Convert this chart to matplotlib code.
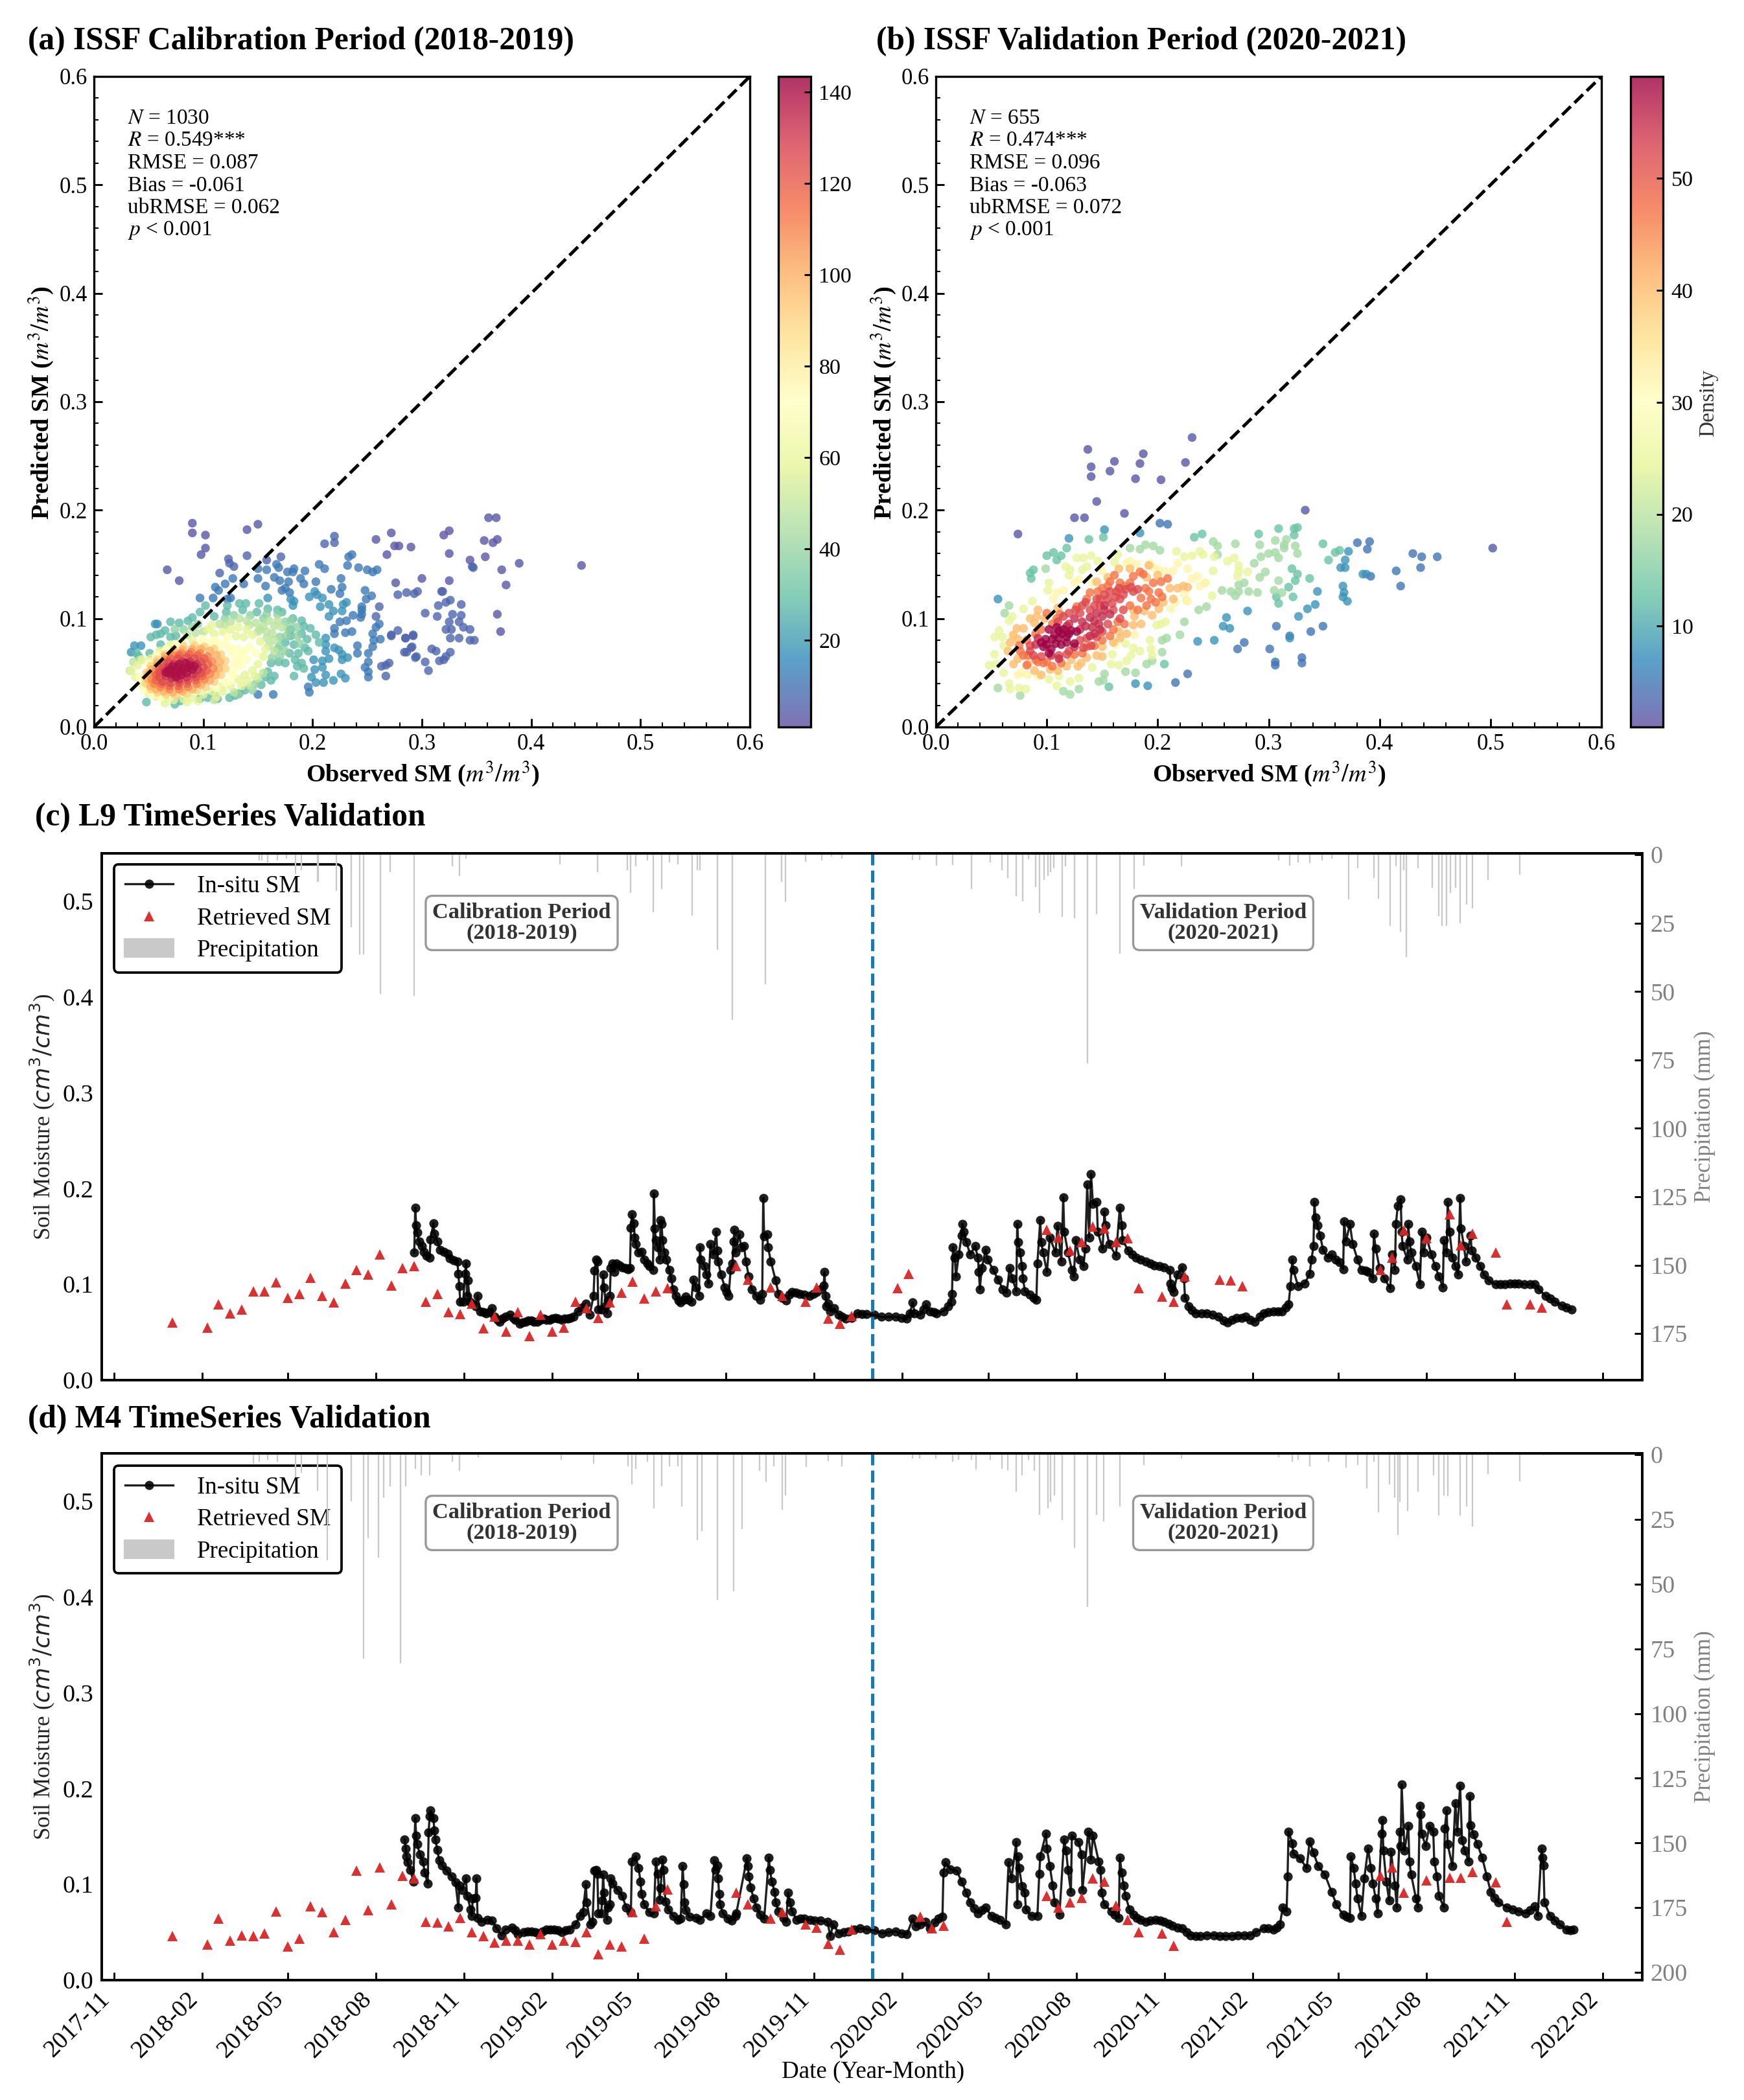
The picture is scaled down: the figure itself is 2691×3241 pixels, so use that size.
import numpy as np
import pandas as pd
import matplotlib
matplotlib.use('Agg')
from matplotlib import pyplot as plt
from matplotlib.dates import MonthLocator, DateFormatter
from matplotlib.patches import Patch
from matplotlib.ticker import AutoMinorLocator

plt.rcParams['font.family'] = ['Liberation Serif', 'DejaVu Serif']
plt.rcParams['mathtext.fontset'] = 'stix'

W, H = 2691, 3241

a_lv3 = [(.090,.188),(.090,.179),(.102,.177),(.102,.165),(.098,.159),(.140,.182),(.150,.187),(.067,.145),(.078,.135),
         (.258,.173),(.272,.179),(.268,.159),(.275,.167),(.279,.167),(.290,.166),(.320,.177),(.325,.181),(.325,.160),
         (.357,.172),(.361,.193),(.368,.193),(.369,.173),(.365,.170),(.358,.157),(.344,.154),(.373,.145),(.389,.151),
         (.446,.149),(.377,.131),(.369,.104),(.372,.088),(.276,.133),(.300,.137),(.325,.135)]
a_lv7 = [(.220,.176),(.220,.170),(.211,.169),(.346,.148),(.347,.147),(.319,.125),(.278,.122),(.286,.124),(.293,.123),
         (.296,.125),(.318,.125),(.326,.117),(.322,.115),(.315,.112),(.336,.113),(.303,.105),(.314,.102),(.328,.104),
         (.336,.103),(.325,.097),(.334,.097),(.338,.092),(.344,.090),(.322,.090),(.327,.090),(.326,.082),(.334,.082),
         (.344,.080),(.348,.080),(.309,.072),(.313,.070),(.326,.069),(.322,.065),(.316,.061),(.320,.062),(.303,.060),
         (.306,.052),(.284,.069),(.294,.064),(.290,.073),(.285,.082),(.292,.084),(.278,.089),(.272,.084),(.286,.069),
         (.295,.065),(.291,.074),(.292,.085),(.272,.085),(.285,.082),(.123,.155),(.124,.151),(.128,.148),(.140,.158),
         (.158,.154),(.171,.157),(.115,.142),(.261,.111),(.258,.102),(.267,.047),(.267,.057),(.270,.059),(.263,.056)]
a_lv12 = [(.167,.150),(.169,.147),(.150,.146),(.158,.145),(.127,.137),(.120,.132),(.137,.132),(.150,.137),(.165,.138),
          (.170,.135),(.178,.134),(.177,.143),(.183,.146),(.182,.143),(.193,.144),(.189,.137),(.192,.132),(.111,.129),
          (.114,.126),(.157,.130),(.175,.128),(.172,.126),(.179,.124),(.206,.150),(.211,.146),(.233,.157),(.236,.159),
          (.232,.149),(.242,.147),(.250,.145),(.255,.143),(.259,.145),(.226,.137),(.203,.134),(.227,.129),(.217,.127),
          (.225,.123),(.248,.126),(.254,.121),(.249,.118),(.097,.119),(.109,.119),(.125,.119),(.122,.118),(.245,.111),
          (.245,.108),(.245,.104),(.244,.101),(.237,.103),(.231,.098),(.225,.097),(.220,.091),(.220,.086),(.230,.087),
          (.236,.088),(.261,.095),(.258,.092),(.255,.086),(.262,.081),(.256,.080),(.255,.074),(.241,.075),(.241,.068),
          (.251,.068),(.251,.060),(.248,.055),(.251,.051),(.251,.046),(.150,.030),(.164,.030),(.196,.037),(.197,.032)]
a_lv18 = [(.202,.125),(.204,.122),(.197,.120),(.209,.119),(.207,.111),(.215,.113),(.231,.115),(.228,.113),(.219,.107),
          (.227,.107),(.215,.102),(.199,.046),(.203,.041),(.210,.041),(.212,.048),(.219,.043),(.226,.049),(.230,.045),
          (.220,.073),(.224,.071),(.227,.067),(.232,.064),(.227,.062),(.212,.082),(.212,.076),(.212,.070),(.215,.063),
          (.209,.061),(.201,.062),(.202,.053),(.209,.055),(.159,.119),(.180,.118),(.183,.116),(.182,.112),(.056,.095),
          (.058,.095),(.037,.075),(.043,.075),(.034,.069)]
a_lv28 = [(.070,.097),(.078,.096),(.086,.098),(.090,.101),(.097,.106),(.102,.112),(.110,.102),(.052,.083),(.057,.085),
          (.061,.086),(.065,.089),(.070,.083),(.075,.084),(.039,.068),(.041,.065),(.051,.068),(.061,.076),(.048,.023),
          (.074,.021),(.079,.024),(.097,.026),(.104,.027),(.110,.030),(.113,.026),(.124,.027),(.129,.029),(.133,.031),
          (.138,.034),(.122,.112),(.121,.106),(.133,.114),(.139,.114),(.151,.114),(.159,.109),(.168,.108),(.172,.106),
          (.136,.108),(.149,.106),(.182,.100),(.190,.098),(.192,.093),(.198,.091),(.203,.085),(.180,.090),(.180,.084),
          (.195,.081),(.206,.078),(.183,.076),(.193,.073),(.196,.070),(.184,.062),(.190,.059),(.186,.056),(.192,.054),
          (.183,.047),(.169,.060),(.175,.059),(.162,.059),(.159,.051),(.165,.047),(.162,.043),(.153,.039),(.157,.046),
          (.179,.068),(.175,.078),(.187,.068),(.190,.086)]
a_lv38 = [(.120,.100),(.128,.103),(.143,.103),(.155,.100),(.175,.097),(.178,.090),(.170,.083),(.170,.075),(.175,.070),
          (.170,.065),(.148,.040),(.145,.034),(.132,.030),(.082,.090),(.074,.090),(.090,.092),(.095,.095),(.185,.092),
          (.186,.084),(.188,.077),(.180,.098),(.168,.104),(.158,.104),(.176,.084),(.168,.072),(.163,.064)]
a_lv48 = [(.125,.097),(.133,.100),(.140,.098),(.148,.096),(.155,.093),(.150,.088),(.158,.088),(.163,.086),(.165,.093),
          (.160,.098),(.168,.098),(.172,.092),(.165,.080),(.160,.075),(.165,.070),(.155,.050),(.150,.045),(.143,.038),
          (.128,.032),(.110,.025),(.115,.095),(.100,.088),(.093,.087),(.085,.085),(.033,.052),(.036,.060),(.042,.062),
          (.158,.082),(.152,.090),(.142,.094),(.120,.094)]
a_lv58 = [(.118,.088),(.125,.090),(.132,.092),(.140,.090),(.130,.084),(.137,.083),(.145,.085),(.110,.086),(.104,.090),
          (.108,.094),(.152,.079),(.157,.072),(.155,.065),(.150,.058),(.145,.052),(.138,.048),(.132,.044),(.140,.043),
          (.147,.047),(.125,.038),(.118,.033),(.135,.038),(.112,.028),(.095,.024),(.085,.023),(.065,.022),(.034,.052),
          (.038,.046),(.040,.057),(.044,.062),(.045,.038),(.050,.031),(.057,.028),(.065,.026),(.073,.025),(.082,.026),
          (.090,.027),(.100,.030),(.108,.033),(.116,.037),(.052,.063),(.060,.070),(.070,.076),(.080,.079),(.090,.080)]
a_lv72 = [(.124,.042),(.128,.048),(.130,.055),(.132,.062),(.135,.068),(.125,.073),(.120,.078),(.110,.080),(.100,.081),
          (.125,.050),(.128,.058),(.133,.064),(.138,.070),(.143,.074),(.148,.068),(.140,.062),(.132,.072),(.125,.070),
          (.118,.075),(.122,.083),(.112,.078),(.105,.077),(.097,.078),(.135,.057),(.128,.066),(.042,.046),(.046,.034),
          (.053,.030),(.062,.028),(.112,.036),(.120,.041),(.050,.058),(.057,.066),(.066,.072),(.075,.076)]
a_lv90 = [(.047,.045),(.048,.040),(.052,.035),(.058,.032),(.066,.030),(.075,.029),(.085,.031),(.094,.034),(.102,.037),
          (.110,.042),(.116,.048),(.120,.054),(.120,.061),(.116,.067),(.110,.072),(.101,.074),(.092,.075),(.082,.074),
          (.073,.071),(.065,.067),(.058,.062),(.052,.056),(.048,.050)]
a_lv100 = [(.050,.044),(.052,.038),(.057,.035),(.064,.033),(.072,.032),(.081,.033),(.090,.035),(.098,.039),(.106,.043),
           (.111,.048),(.114,.054),(.115,.060),(.112,.066),(.106,.070),(.098,.072),(.090,.072),(.081,.071),(.073,.069),
           (.065,.065),(.058,.059),(.053,.053),(.050,.049)]
a_lv110 = [(.053,.044),(.055,.040),(.061,.037),(.069,.035),(.078,.035),(.086,.037),(.094,.040),(.101,.044),(.106,.049),
           (.109,.054),(.108,.060),(.104,.065),(.097,.068),(.089,.069),(.080,.068),(.072,.066),(.065,.062),(.058,.056),
           (.055,.050)]
a_lv118 = [(.057,.043),(.062,.040),(.069,.038),(.077,.038),(.085,.040),(.093,.043),(.099,.047),(.103,.052),(.104,.058),
           (.101,.063),(.095,.066),(.087,.067),(.078,.066),(.070,.063),(.064,.058),(.060,.053),(.057,.048)]
a_lv125 = [(.060,.046),(.063,.042),(.070,.041),(.078,.041),(.086,.043),(.093,.046),(.098,.050),(.100,.055),(.098,.060),
           (.092,.063),(.085,.064),(.077,.063),(.068,.060),(.063,.055),(.060,.050)]
a_lv132 = [(.066,.047),(.071,.045),(.078,.044),(.085,.046),(.091,.049),(.095,.053),(.094,.058),(.088,.060),(.081,.060),
           (.073,.058),(.068,.055),(.065,.051)]
a_lv140 = [(.070,.049),(.075,.046),(.080,.048),(.085,.050),(.090,.053),(.086,.055),(.080,.053),(.075,.052),(.070,.053),
           (.066,.050),(.072,.056),(.078,.058),(.084,.059),(.092,.056),(.074,.049),(.079,.051),(.083,.053),(.077,.055),
           (.088,.057),(.068,.052)]

b_lv2 = [(.137,.256),(.231,.267),(.140,.240),(.140,.231),(.161,.245),(.157,.236),(.187,.252),(.184,.243),(.225,.244),
         (.180,.229),(.203,.228),(.145,.208),(.125,.193),(.134,.193),(.170,.197),(.074,.178),(.333,.200),(.502,.165)]
b_lv5 = [(.202,.188),(.209,.187),(.216,.041),(.227,.049),(.272,.072),(.278,.078),(.301,.072),(.306,.060),(.306,.057),
         (.330,.064),(.330,.059),(.319,.084),(.338,.088),(.349,.093),(.307,.093),(.430,.160),(.438,.157),(.437,.147),
         (.452,.157),(.415,.144),(.419,.130),(.392,.139),(.389,.164),(.391,.171),(.380,.170)]
b_lv8 = [(.056,.118),(.184,.179),(.152,.182),(.120,.174),(.259,.093),(.265,.091),(.262,.101),(.281,.107),(.251,.080),
         (.236,.079),(.180,.040),(.191,.038),(.327,.102),(.335,.109),(.342,.113),(.385,.141),(.388,.141),(.372,.162),
         (.369,.154),(.365,.147),(.369,.147),(.367,.130),(.368,.124),(.367,.120),(.371,.116),(.319,.082),(.344,.125)]
b_lv13 = [(.138,.173),(.151,.175),(.118,.165),(.100,.158),(.106,.161),(.109,.154),(.113,.158),(.088,.145),(.085,.142),
          (.086,.137),(.233,.175),(.240,.178),(.291,.178),(.309,.183),(.326,.184),(.323,.183),(.323,.177),(.349,.169),
          (.360,.161),(.354,.154),(.364,.163),(.337,.137),(.322,.120),(.309,.114),(.307,.120),(.206,.058),(.156,.037),
          (.324,.135),(.321,.146),(.326,.141),(.318,.129)]
b_lv18 = [(.324,.167),(.326,.160),(.316,.173),(.314,.168),(.314,.165),(.306,.172),(.306,.161),(.300,.160),(.309,.156),
          (.292,.168),(.293,.157),(.270,.169),(.287,.151),(.297,.143),(.292,.138),(.309,.135),(.305,.126),(.312,.124),
          (.290,.124),(.282,.125),(.270,.121),(.266,.125),(.273,.125),(.278,.133),(.273,.131),(.258,.126),(.250,.171),
          (.254,.167),(.237,.108),(.244,.111),(.224,.097),(.220,.085),(.189,.168),(.196,.167),(.175,.165),(.184,.164),
          (.202,.163),(.066,.112),(.062,.105),(.254,.159),(.099,.146),(.076,.029),(.056,.036),(.115,.033),(.121,.030),
          (.129,.035),(.180,.050),(.171,.051),(.190,.058),(.195,.061),(.204,.069),(.208,.082),(.204,.080),(.147,.042),
          (.151,.043),(.152,.049)]
b_lv25 = [(.127,.156),(.133,.156),(.140,.158),(.117,.148),(.121,.145),(.120,.140),(.136,.148),(.132,.145),(.146,.153),
          (.161,.152),(.164,.159),(.217,.162),(.224,.157),(.231,.158),(.238,.162),(.241,.159),(.251,.157),(.263,.153),
          (.269,.156),(.273,.149),(.273,.144),(.281,.143),(.272,.139),(.250,.144),(.249,.121),(.243,.133),(.102,.133),
          (.101,.126),(.087,.116),(.079,.109),(.069,.102),(.066,.098),(.057,.089),(.053,.083),(.060,.083),(.061,.075),
          (.053,.067),(.048,.057),(.054,.058),(.061,.050),(.066,.040),(.067,.035),(.075,.036),(.081,.035),(.109,.038),
          (.102,.044),(.111,.047),(.121,.042),(.129,.045),(.141,.055),(.158,.058),(.165,.057),(.172,.061),(.176,.066),
          (.184,.070),(.178,.073),(.194,.072),(.193,.080),(.195,.066),(.159,.067),(.171,.077),(.199,.094),(.203,.095),
          (.207,.097),(.226,.117)]
b_lv32 = [(.175,.153),(.172,.151),(.181,.150),(.193,.151),(.196,.147),(.200,.146),(.206,.144),(.214,.144),(.218,.151),
          (.227,.146),(.236,.139),(.231,.137),(.238,.130),(.243,.133),(.224,.123),(.227,.116),(.212,.109),(.216,.115),
          (.150,.144),(.141,.133),(.125,.133),(.129,.136),(.115,.126),(.109,.124),(.106,.118),(.179,.085),(.162,.076),
          (.092,.047),(.083,.048),(.077,.050),(.074,.048),(.069,.084)]
b_lv40 = [(.192,.149),(.223,.130),(.227,.129),(.218,.128),(.211,.128),(.214,.118),(.201,.109),(.188,.107),(.178,.108),
          (.179,.102),(.178,.094),(.172,.086),(.150,.074),(.092,.108),(.091,.102),(.089,.096),(.079,.091),(.073,.091),
          (.074,.081),(.067,.078),(.074,.063),(.083,.058),(.089,.052),(.103,.053),(.122,.062),(.136,.064),(.145,.066),
          (.166,.082),(.160,.078),(.118,.056),(.131,.059),(.200,.140),(.190,.138),(.175,.146),(.165,.146),(.155,.138),
          (.145,.134),(.205,.115),(.195,.103),(.185,.095),(.165,.088),(.110,.110),(.098,.100),(.085,.100),(.070,.085),
          (.065,.070),(.070,.058),(.095,.048),(.110,.052),(.128,.056),(.150,.065)]
b_lv47 = [(.161,.140),(.157,.134),(.166,.133),(.178,.139),(.187,.141),(.184,.143),(.209,.137),(.203,.134),(.196,.133),
          (.201,.124),(.204,.120),(.194,.118),(.185,.119),(.189,.128),(.150,.128),(.136,.118),(.139,.124),(.112,.104),
          (.109,.100),(.127,.111),(.079,.066),(.083,.066),(.076,.070),(.082,.057),(.097,.059),(.113,.059),(.132,.068),
          (.136,.074),(.143,.075),(.157,.084),(.164,.097),(.092,.060),(.105,.056),(.146,.125),(.155,.130),(.170,.130),
          (.175,.133),(.192,.125),(.198,.115),(.190,.112),(.182,.108),(.175,.112),(.100,.105),(.105,.095),(.095,.090),
          (.090,.086),(.082,.080),(.075,.075),(.090,.062),(.100,.060),(.125,.067),(.150,.080),(.160,.090),(.170,.095)]
b_lv52 = [(.178,.125),(.171,.127),(.182,.127),(.176,.129),(.157,.125),(.152,.122),(.148,.118),(.132,.112),(.126,.108),
          (.139,.108),(.143,.112),(.115,.102),(.166,.118),(.162,.120),(.159,.114),(.169,.108),(.166,.100),(.145,.083),
          (.136,.082),(.150,.088),(.118,.067),(.111,.066),(.133,.073),(.165,.128),(.169,.122),(.088,.066),(.085,.075),
          (.135,.115),(.145,.118),(.155,.118),(.163,.125),(.148,.112),(.130,.105),(.120,.105),(.110,.097),(.160,.108),
          (.155,.095),(.130,.080),(.120,.070),(.095,.065),(.085,.070),(.140,.075)]
b_lv55 = [(.152,.108),(.157,.104),(.150,.102),(.143,.098),(.139,.101),(.132,.097),(.125,.100),(.141,.092),(.152,.112),
          (.143,.086),(.139,.084),(.125,.074),(.092,.082),(.090,.076),(.111,.063),(.104,.066),(.118,.093),(.147,.095),
          (.135,.093),(.130,.090),(.145,.105),(.148,.090),(.120,.095)]
b_lv59 = [(.111,.089),(.114,.086),(.122,.089),(.127,.088),(.099,.081),(.111,.082),(.118,.083),(.102,.090),(.109,.092),
          (.097,.074),(.104,.072),(.113,.076),(.102,.068),(.125,.077),(.105,.081),(.108,.077),(.118,.078),(.107,.085),
          (.115,.090),(.100,.076),(.120,.086),(.095,.078)]

# retrieved SM, step = number of 12-day revisits after 2018-01-01
c_ret_step = [0,3,4,5,6,7,8,9,10,11,12,13,14,15,16,17,18,19,20,21,22,23,24,25,26,27,28,29,30,31,32,33,34,35,36,37,38,39,40,
              41,42,43,49,50,52,53,55,56,57,58,59,63,64,76,77,78,79,80,81,82,83,84,86,87,88,91,92,93,105,106,107,109,111,
              112,113,115,116,118,119]
c_ret_sm = [.060,.055,.079,.070,.074,.093,.093,.102,.086,.090,.107,.088,.081,.101,.115,.110,.131,.099,.117,.119,.082,.090,
            .071,.069,.080,.054,.066,.051,.071,.046,.068,.051,.055,.082,.075,.065,.081,.091,.103,.085,.093,.096,.119,.105,
            .097,.088,.082,.097,.064,.059,.067,.096,.111,.157,.149,.135,.144,.160,.158,.144,.148,.096,.087,.082,.108,.105,
            .104,.098,.115,.128,.156,.148,.173,.141,.153,.133,.079,.079,.076]
d_ret_step = [0,3,4,5,6,7,8,9,10,11,12,13,14,15,16,17,18,19,20,21,22,23,24,25,26,27,28,29,30,31,32,33,34,35,36,37,38,39,40,
              41,42,43,49,50,52,53,55,56,57,58,59,65,66,67,76,77,78,79,80,81,82,83,84,86,87,105,106,107,109,111,112,113,115,116]
d_ret_sm = [.046,.037,.064,.041,.047,.046,.049,.072,.035,.043,.077,.071,.050,.063,.114,.073,.118,.079,.109,.106,.061,.060,
            .056,.065,.050,.046,.039,.041,.041,.037,.048,.037,.041,.040,.050,.027,.037,.035,.071,.043,.077,.095,.091,.079,
            .064,.071,.058,.055,.038,.032,.053,.066,.054,.057,.088,.076,.081,.086,.106,.103,.078,.063,.050,.049,.036,.109,
            .118,.091,.104,.107,.107,.113,.102,.061]

# in-situ SM as (days after 2018-01-01, value)
c_insitu = [(252,.133),(253,.180),(254,.162),(255,.154),(257,.145),(260,.140),(262,.134),(265,.130),(268,.128),(269,.147),
            (272,.164),(273,.153),(276,.145),(279,.136),(283,.134),(287,.132),(289,.127),(293,.125),(297,.124),(298,.111),
            (299,.098),(300,.082),(303,.082),(305,.111),(306,.122),(307,.088),(308,.104),(310,.082),(313,.080),(316,.077),
            (318,.088),(321,.072),(324,.071),(327,.070),(330,.071),(333,.075),(336,.066),(339,.063),(341,.061),(344,.064),
            (347,.066),(352,.068),(355,.065),(357,.063),(362,.059),(365,.060),(368,.061),(371,.062),(374,.062),(377,.061),
            (380,.061),(384,.063),(387,.064),(390,.063),(393,.063),(396,.064),(399,.065),(402,.064),(406,.063),(409,.064),
            (412,.064),(415,.065),(418,.066),(423,.072),(427,.076),(431,.080),(435,.068),(439,.088),(440,.114),(442,.126),
            (443,.124),(444,.074),(447,.074),(449,.110),(450,.097),(452,.078),(453,.070),(454,.083),(456,.088),(457,.117),
            (459,.122),(461,.113),(463,.122),(466,.120),(469,.118),(472,.117),(475,.116),(477,.117),(478,.159),(479,.173),
            (481,.164),(482,.149),(483,.142),(486,.133),(489,.134),(492,.126),(495,.122),(497,.119),(501,.115),(502,.195),
            (503,.158),(504,.146),(506,.139),(508,.126),(509,.167),(510,.163),(511,.146),(513,.133),(515,.126),(518,.115),
            (520,.106),(522,.095),(525,.088),(528,.083),(530,.081),(533,.084),(535,.087),(538,.084),(541,.082),(543,.105),
            (546,.097),(549,.088),(550,.139),(551,.126),(555,.119),(557,.110),(559,.101),(561,.142),(564,.131),(567,.155),
            (568,.135),(569,.124),(572,.110),(576,.097),(578,.092),(580,.088),(582,.115),(584,.122),(585,.145),(586,.157),
            (587,.133),(591,.152),(593,.139),(596,.140),(598,.124),(601,.108),(604,.095),(609,.088),(613,.084),(615,.090),
            (616,.190),(617,.150),(620,.152),(621,.139),(624,.124),(629,.104),(632,.090),(636,.086),(640,.083),(643,.089),
            (646,.092),(650,.091),(654,.090),(659,.089),(664,.088),(668,.090),(672,.092),(676,.095),(679,.099),(680,.113),
            (681,.088),(682,.077),(684,.080),(686,.072),(690,.075),(695,.068),(698,.066),(702,.064),(708,.065),(714,.070),
            (719,.069),(724,.069),(732,.068),(739,.066),(747,.066),(754,.066),(760,.065),(766,.064),(769,.070),(772,.081),
            (774,.070),(780,.068),(783,.074),(786,.079),(790,.072),(794,.071),(797,.070),(804,.072),(809,.077),(812,.082),
            (813,.090),(814,.139),(816,.128),(817,.108),(820,.131),(823,.151),(824,.163),(825,.155),(828,.144),(832,.131),
            (837,.140),(840,.128),(841,.113),(842,.095),(844,.117),(848,.136),(850,.126),(856,.115),(861,.105),(866,.095),
            (870,.091),(873,.117),(876,.106),(880,.093),(881,.163),(882,.144),(884,.133),(886,.119),(887,.106),(889,.093),
            (894,.089),(898,.086),(901,.084),(902,.122),(905,.167),(906,.144),(908,.133),(912,.113),(915,.149),(921,.133),
            (923,.161),(927,.124),(929,.191),(930,.155),(934,.133),(938,.115),(940,.108),(942,.146),(946,.126),(950,.119),
            (952,.137),(954,.204),(956,.149),(958,.215),(960,.184),(964,.186),(965,.155),(970,.137),(972,.176),(973,.162),
            (977,.142),(984,.130),(988,.180),(990,.162),(991,.146),(997,.135),(1001,.131),(1005,.128),(1010,.126),(1015,.124),
            (1020,.122),(1024,.120),(1029,.119),(1034,.118),(1040,.115),(1041,.101),(1042,.096),(1044,.092),(1048,.110),
            (1053,.118),(1055,.106),(1056,.086),(1060,.077),(1063,.073),(1067,.070),(1073,.070),(1079,.070),(1085,.068),
            (1091,.066),(1096,.062),(1100,.060),(1105,.063),(1110,.065),(1115,.065),(1119,.066),(1124,.063),(1129,.061),
            (1134,.066),(1138,.070),(1143,.071),(1148,.072),(1153,.072),(1157,.072),(1161,.076),(1164,.079),(1166,.098),
            (1168,.126),(1169,.115),(1174,.098),(1181,.101),(1186,.111),(1188,.126),(1190,.140),(1191,.186),(1192,.170),
            (1194,.162),(1197,.151),(1200,.136),(1205,.128),(1209,.131),(1213,.126),(1217,.123),(1221,.116),(1222,.166),
            (1224,.145),(1228,.163),(1231,.142),(1236,.126),(1240,.115),(1244,.114),(1247,.113),(1252,.106),(1253,.153),
            (1255,.137),(1259,.117),(1264,.106),(1270,.096),(1272,.131),(1275,.115),(1276,.163),(1278,.182),(1281,.189),
            (1282,.155),(1283,.140),(1288,.126),(1289,.163),(1290,.145),(1292,.133),(1297,.119),(1301,.100),(1303,.155),
            (1305,.133),(1308,.149),(1313,.131),(1317,.119),(1321,.108),(1325,.097),(1326,.146),(1329,.133),(1330,.186),
            (1332,.155),(1335,.128),(1338,.119),(1341,.110),(1343,.190),(1344,.158),(1347,.140),(1349,.124),(1354,.151),
            (1355,.135),(1359,.128),(1364,.119),(1368,.110),(1373,.104),(1380,.100),(1385,.100),(1390,.100),(1395,.101),
            (1400,.101),(1404,.101),(1410,.100),(1416,.100),(1421,.100),(1425,.095),(1432,.088),(1437,.085),(1442,.082),
            (1449,.078),(1454,.076),(1459,.074)]

d_insitu = [(242,.147),(243,.137),(244,.129),(245,.123),(248,.115),(251,.103),(253,.169),(254,.151),(255,.142),(258,.131),
            (261,.124),(263,.112),(266,.101),(267,.154),(268,.171),(269,.177),(272,.169),(273,.156),(274,.147),(276,.136),
            (278,.125),(281,.120),(286,.114),(291,.108),(295,.102),(298,.076),(299,.099),(302,.094),(306,.106),(307,.088),
            (311,.074),(312,.067),(313,.085),(316,.086),(317,.106),(318,.065),(322,.061),(328,.063),(333,.062),(338,.054),
            (343,.047),(347,.053),(354,.055),(357,.052),(360,.048),(366,.050),(370,.051),(374,.051),(378,.050),(382,.049),
            (386,.051),(390,.053),(394,.053),(398,.053),(402,.052),(406,.050),(410,.052),(414,.053),(420,.058),(425,.067),
            (428,.071),(431,.100),(432,.081),(436,.058),(438,.061),(440,.114),(442,.115),(443,.111),(444,.070),(447,.070),
            (448,.083),(449,.110),(450,.091),(453,.063),(454,.076),(456,.079),(457,.106),(459,.101),(464,.094),(469,.088),
            (473,.076),(478,.071),(479,.124),(483,.129),(486,.117),(488,.103),(489,.090),(492,.079),(497,.071),(502,.070),
            (504,.124),(506,.111),(508,.084),(509,.096),(511,.126),(512,.115),(514,.082),(517,.074),(522,.067),(527,.063),
            (530,.064),(532,.119),(533,.100),(534,.081),(535,.073),(539,.066),(546,.065),(550,.063),(557,.070),(561,.067),
            (565,.125),(566,.115),(568,.120),(569,.106),(570,.090),(571,.079),(574,.070),(579,.064),(583,.062),(587,.067),
            (588,.070),(599,.127),(600,.119),(601,.108),(603,.097),(606,.085),(609,.076),(613,.068),(617,.064),(622,.128),
            (623,.115),(625,.103),(628,.092),(629,.081),(632,.072),(637,.065),(640,.061),(642,.091),(644,.081),(646,.072),
            (651,.063),(655,.064),(659,.064),(665,.063),(670,.062),(676,.062),(683,.061),(686,.046),(689,.058),(695,.049),
            (700,.050),(705,.051),(711,.053),(717,.054),(724,.053),(732,.052),(740,.049),(747,.050),(754,.051),(760,.049),
            (766,.048),(772,.064),(775,.056),(780,.058),(785,.061),(790,.054),(795,.060),(799,.064),(803,.066),(804,.112),
            (806,.123),(811,.116),(818,.114),(823,.103),(828,.091),(832,.081),(836,.075),(840,.070),(844,.073),(848,.076),
            (854,.067),(858,.065),(863,.063),(869,.058),(872,.123),(875,.106),(880,.144),(881,.079),(882,.129),(883,.117),
            (886,.098),(889,.091),(890,.074),(896,.067),(902,.067),(904,.111),(905,.129),(911,.153),(912,.137),(915,.119),
            (918,.099),(920,.081),(925,.068),(930,.147),(932,.135),(934,.115),(937,.092),(938,.151),(945,.144),(948,.131),
            (949,.094),(955,.155),(958,.126),(960,.151),(966,.124),(968,.115),(969,.091),(972,.079),(979,.072),(983,.068),
            (987,.065),(988,.128),(990,.112),(992,.099),(994,.088),(998,.074),(1002,.068),(1006,.065),(1010,.063),(1015,.061),
            (1020,.062),(1025,.063),(1030,.062),(1034,.061),(1039,.059),(1043,.057),(1048,.055),(1053,.054),(1058,.050),
            (1062,.047),(1067,.046),(1072,.046),(1079,.047),(1086,.047),(1092,.046),(1098,.046),(1105,.046),(1111,.047),
            (1118,.047),(1124,.047),(1130,.050),(1138,.054),(1143,.054),(1148,.053),(1152,.055),(1155,.058),(1158,.076),
            (1162,.072),(1163,.108),(1164,.155),(1168,.143),(1169,.132),(1176,.127),(1183,.117),(1186,.145),(1190,.133),
            (1195,.119),(1202,.110),(1209,.092),(1214,.079),(1221,.068),(1225,.066),(1228,.065),(1229,.129),(1232,.117),
            (1234,.101),(1236,.085),(1240,.067),(1243,.106),(1247,.137),(1250,.117),(1252,.101),(1255,.085),(1257,.070),
            (1261,.153),(1262,.167),(1263,.135),(1266,.103),(1269,.083),(1271,.134),(1275,.099),(1277,.076),(1280,.155),
            (1281,.140),(1282,.204),(1285,.135),(1289,.161),(1290,.124),(1292,.110),(1297,.085),(1299,.076),(1301,.182),
            (1302,.173),(1303,.153),(1307,.140),(1311,.161),(1315,.155),(1316,.124),(1319,.108),(1321,.088),(1326,.076),
            (1327,.158),(1329,.177),(1330,.142),(1335,.119),(1338,.185),(1340,.155),(1343,.203),(1345,.146),(1348,.135),
            (1352,.124),(1353,.192),(1354,.162),(1357,.152),(1361,.142),(1366,.128),(1371,.108),(1375,.092),(1379,.086),
            (1383,.081),(1392,.076),(1398,.074),(1404,.072),(1411,.070),(1416,.073),(1421,.077),(1424,.067),(1428,.137),
            (1429,.128),(1430,.120),(1431,.081),(1437,.067),(1442,.062),(1447,.058),(1454,.053),(1458,.052),(1461,.053)]

# precipitation as (days after 2018-01-01, mm)
c_rain = [(90,2.1),(93,2.1),(99,2.8),(109,2.1),(119,1.4),(128,7),(134,5.6),(151,9.8),(152,9.8),(171,13.3),(186,26.4),
          (195,36.5),(199,36.5),(217,50.8),(227,6.3),(252,51.7),(292,4.2),(299,7.7),(306,1.4),(404,3.5),(443,6.3),(474,5.6),
          (478,14),(483,4.2),(495,2.1),(501,21),(510,12.6),(518,2.8),(527,3.5),(542,22.2),(547,5.6),(550,5.6),(568,34.7),
          (584,60.4),(618,47.3),(635,9.8),(639,17.3),(660,2.5),(677,2.1),(687,.7),(698,1.4),(772,1.8),(779,1.8),(797,3.9),
          (814,3.7),(833,12.6),(853,2.8),(865,5.6),(871,8.4),(880,15.2),(887,17.1),(893,1.7),(900,11.9),(904,21.3),(909,9.1),
          (913,7.7),(916,6.3),(919,4.9),(928,22.8),(931,4.2),(941,23.2),(954,76.1),(964,21.8),(988,36.2),(1003,12.6),
          (1013,3.9),(1052,4.2),(1154,2.1),(1165,3.9),(1174,2.8),(1186,3.1),(1199,2.1),(1209,1.4),(1227,16.4),(1236,4.9),
          (1253,8.4),(1258,16),(1270,26),(1276,4.2),(1281,28.1),(1284,5.6),(1287,37.5),(1299,4.9),(1314,12),(1321,22.5),
          (1324,26),(1329,26),(1333,14),(1338,12),(1343,25),(1350,18.3),(1356,19.7),(1372,9.1),(1405,7.4)]
d_rain = [(84,3.6),(90,2.8),(99,1.9),(109,2.8),(128,8.8),(134,7.1),(151,14),(161,40.8),(186,18),(199,78.8),(204,32.2),
          (215,39.9),(220,16.6),(227,12.3),(238,80.6),(243,12.3),(253,5.4),(259,8),(268,8),(292,2.8),(299,6.2),(319,1),
          (405,1.9),(439,3.6),(475,4.5),(479,11.4),(483,5.4),(495,2.8),(502,20.9),(510,12.3),(518,4.5),(527,4.5),(531,20),
          (547,33),(552,29.6),(568,56),(585,52.9),(594,28.7),(612,6.2),(619,10.5),(627,4.5),(636,21.4),(639,15.7),(661,4.8),
          (684,2.4),(698,4.5),(772,1.6),(779,1.6),(796,1.4),(814,2.8),(820,2.1),(833,1.9),(838,5.7),(853,1.9),(865,5.4),
          (871,5.9),(880,14.3),(886,8),(893,1.9),(899,6.2),(904,23.2),(913,20.9),(916,18.3),(920,15.7),(928,25.2),(941,36),
          (954,58.9),(964,23.2),(971,25.8),(988,20),(1013,4.1),(1052,1.6),(1154,1),(1168,2.8),(1174,1.9),(1186,4.5),
          (1206,2.8),(1224,5),(1236,4.1),(1246,13.1),(1253,2.8),(1258,22.3),(1269,11.4),(1275,16.6),(1278,31.1),(1280,18.3),
          (1288,21.8),(1299,14.3),(1315,8),(1321,23.5),(1326,15.7),(1330,16.1),(1343,23.5),(1350,20),(1356,27.8),(1372,7.6),
          (1405,10.2),(1430,.3)]

a_stats = ['$N$ = 1030', '$R$ = 0.549***', 'RMSE = 0.087', 'Bias = -0.061', 'ubRMSE = 0.062', '$p$ < 0.001']
b_stats = ['$N$ = 655', '$R$ = 0.474***', 'RMSE = 0.096', 'Bias = -0.063', 'ubRMSE = 0.072', '$p$ < 0.001']
base_day = pd.Timestamp('2018-01-01')


def box(x0, y0, x1, y1):
    """Axes rectangle from picture pixels"""
    return [x0 / W, 1 - y1 / H, (x1 - x0) / W, (y1 - y0) / H]


def to_dates(days):
    return base_day + pd.to_timedelta(np.asarray(days), unit='D')


def scatter_panel(rect, cbar_rect, groups, vmin, vmax, stats, cticks):
    ax = fig.add_axes(box(*rect))
    cax = fig.add_axes(box(*cbar_rect))
    for level, pts in groups:
        pts = np.array(pts)
        sc = ax.scatter(pts[:, 0], pts[:, 1], c=np.full(len(pts), level), cmap='Spectral_r', vmin=vmin, vmax=vmax,
                        s=10.5, alpha=0.8, linewidths=0, zorder=2)
    ax.plot([0, 0.6], [0, 0.6], color='k', ls='--', lw=1.2, zorder=3)
    ax.set_xlim(0, 0.6)
    ax.set_ylim(0, 0.6)
    ax.set_xticks(np.arange(0, 0.61, 0.1))
    ax.set_yticks(np.arange(0, 0.61, 0.1))
    ax.xaxis.set_minor_locator(AutoMinorLocator(5))
    ax.yaxis.set_minor_locator(AutoMinorLocator(5))
    ax.tick_params(which='major', direction='in', length=3.2, width=0.7, labelsize=8.3, pad=2.5)
    ax.tick_params(which='minor', direction='in', length=1.6, width=0.5)
    for sp in ax.spines.values():
        sp.set_linewidth(0.8)
    for i, line in enumerate(stats):
        ax.text(0.0306, 0.5615 - i * 0.0207, line, fontsize=8, va='center', ha='left')
    cb = fig.colorbar(sc, cax=cax)
    cb.set_ticks(cticks)
    cb.ax.tick_params(direction='in', length=2.5, width=0.7, labelsize=8.2, pad=3)
    cb.outline.set_linewidth(0.8)
    return ax, cb


def series_panel(rect, rain, insitu, ret_step, ret_sm, rain_max, rain_ticks, legend_y, box_y, show_dates):
    ax = fig.add_axes(box(*rect))
    pts = np.array(sorted(insitu, key=lambda p: p[0]))
    ax.plot(to_dates(pts[:, 0]), pts[:, 1], color='k', lw=0.8, marker='o', ms=3.4, mew=0, alpha=0.88,
            label='In-situ SM', zorder=3)
    ax.plot(to_dates(np.array(ret_step) * 12), ret_sm, ls='none', marker='^', ms=3.7, mew=0, color='#d62728', alpha=0.95,
            label='Retrieved SM', zorder=4)
    ax.axvline(pd.Timestamp('2020-01-01'), color='#1f77b4', ls='--', lw=1.2, zorder=5)
    ax.set_xlim(pd.Timestamp('2017-10-19'), pd.Timestamp('2022-03-14'))
    ax.set_ylim(0, 0.55)
    ax.set_yticks(np.arange(0, 0.51, 0.1))
    ax.xaxis.set_major_locator(MonthLocator(bymonth=[2, 5, 8, 11]))
    ax.xaxis.set_major_formatter(DateFormatter('%Y-%m'))
    ax.tick_params(axis='y', length=0, labelsize=9.2, pad=3)
    ax.tick_params(axis='x', direction='in', length=3, width=0.7, labelsize=9.2, pad=3)
    if show_dates:
        plt.setp(ax.get_xticklabels(), rotation=45, ha='right')
    else:
        ax.tick_params(axis='x', labelbottom=False)
    ax.text((65 - rect[0]) / (rect[2] - rect[0]), 0.5, 'Soil Moisture ($cm^3/cm^3$)', rotation=90, fontsize=8.45, va='center',
            ha='center', color='#222222', transform=ax.transAxes, math_fontfamily='dejavusans')

    ax2 = ax.twinx()
    r = np.array(rain)
    ax2.vlines(to_dates(r[:, 0]), 0, r[:, 1], color='#c9c9c9', lw=0.55, zorder=1)
    ax2.set_ylim(rain_max, -0.5)
    ax2.set_yticks(rain_ticks)
    ax2.tick_params(axis='y', direction='in', length=3, width=0.7, labelsize=9.2, labelcolor='#808080', pad=3)
    ax2.text(1.0405, 0.5, 'Precipitation (mm)', rotation=90, fontsize=8.4, color='#808080', va='center', ha='center',
             transform=ax2.transAxes)
    for a in (ax, ax2):
        for sp in a.spines.values():
            sp.set_linewidth(0.9)

    handles, labels = ax.get_legend_handles_labels()
    handles.append(Patch(color='#c9c9c9'))
    labels.append('Precipitation')
    ax.legend(handles, labels, loc='upper left', bbox_to_anchor=(0.008, legend_y), borderaxespad=0, fontsize=8.9,
              framealpha=1, edgecolor='k', labelspacing=0.4, handlelength=2.0, handletextpad=1.0, borderpad=0.45,
              fancybox=True).get_frame().set_linewidth(0.9)
    for txt, x in (('Calibration Period\n(2018-2019)', 0.2726), ('Validation Period\n(2020-2021)', 0.728)):
        ax.text(x, box_y, txt, transform=ax.transAxes, fontsize=8.25, fontweight='bold', color='#333333', ha='center',
                va='center', linespacing=1.05, zorder=6,
                bbox=dict(boxstyle='round,pad=0.3', fc='white', ec='#999999', lw=0.8))
    return ax


fig = plt.figure(figsize=(W / 300, H / 300), dpi=300)

scatter_panel((145, 118, 1157, 1122), (1201, 118, 1251, 1122),
              [(3, a_lv3), (7, a_lv7), (12, a_lv12), (18, a_lv18), (28, a_lv28), (38, a_lv38), (48, a_lv48), (58, a_lv58),
               (72, a_lv72), (90, a_lv90), (100, a_lv100), (110, a_lv110), (118, a_lv118), (125, a_lv125), (132, a_lv132),
               (140, a_lv140)],
              1, 143.4, a_stats, [20, 40, 60, 80, 100, 120, 140])
_, cb_b = scatter_panel((1444, 118, 2471, 1122), (2516, 118, 2566, 1122),
                        [(2, b_lv2), (5, b_lv5), (8, b_lv8), (13, b_lv13), (18, b_lv18), (25, b_lv25), (32, b_lv32),
                         (40, b_lv40), (47, b_lv47), (52, b_lv52), (55, b_lv55), (59, b_lv59)],
                        1, 59.1, b_stats, [10, 20, 30, 40, 50])
fig.text(2636 / W, 1 - 622 / H, 'Density', rotation=90, fontsize=8, color='#333333', va='center', ha='center')

series_panel((157, 1317, 2534, 2130), c_rain, c_insitu, c_ret_step, c_ret_sm, 192, np.arange(0, 176, 25), 0.979, 0.868, False)
series_panel((157, 2243, 2534, 3056), d_rain, d_insitu, d_ret_step, d_ret_sm, 203, np.arange(0, 201, 25), 0.977, 0.868, True)

titles = [('(a) ISSF Calibration Period (2018-2019)', 43, 64), ('(b) ISSF Validation Period (2020-2021)', 1352, 64),
          ('(c) L9 TimeSeries Validation', 54, 1262), ('(d) M4 TimeSeries Validation', 43, 2191)]
for txt, x, y in titles:
    fig.text(x / W, 1 - y / H, txt, fontsize=11.9, fontweight='bold', ha='left', va='center')

for x, y in ((652, 1194), (1958, 1194)):
    fig.text(x / W, 1 - y / H, 'Observed SM ($m^3/m^3$)', fontsize=9.2, fontweight='bold', ha='center', va='center')
for x, y in ((63, 622), (1363, 622)):
    fig.text(x / W, 1 - y / H, 'Predicted SM ($m^3/m^3$)', fontsize=9.2, fontweight='bold', rotation=90, ha='center', va='center')
fig.text(1347 / W, 1 - 3198 / H, 'Date (Year-Month)', fontsize=8.9, ha='center', va='center')

fig.savefig('out.png', dpi=300)
